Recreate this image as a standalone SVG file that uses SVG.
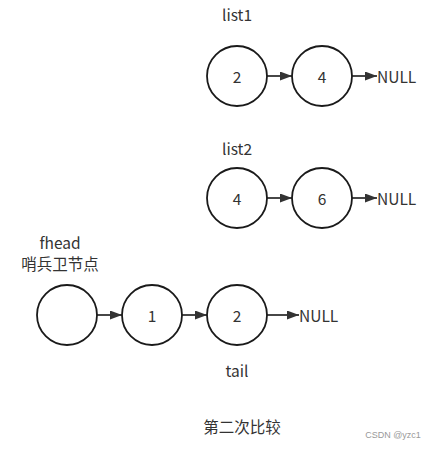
<svg xmlns="http://www.w3.org/2000/svg" width="432" height="452" viewBox="0 0 432 452">
<style>
.n{fill:#fff;stroke:#1a1a1a;stroke-width:1.8}
.t{font-family:"Microsoft YaHei","Noto Sans CJK SC","Liberation Sans",sans-serif;font-size:15.5px;fill:#333;text-anchor:middle;dominant-baseline:central}
.l{font-family:"Noto Sans CJK SC","Liberation Sans",sans-serif;font-size:15.5px;fill:#333;dominant-baseline:central}
.c{stroke:#333;stroke-width:1.8;fill:none;marker-end:url(#a)}
</style>
<defs>
<marker id="a" viewBox="0 0 12 9" refX="12" refY="4.5" markerWidth="12" markerHeight="9" markerUnits="userSpaceOnUse" orient="auto">
<path d="M0,0 L12,4.5 L0,9 z" fill="#333"/>
</marker>
</defs>
<rect width="432" height="452" fill="#fff"/>
<g id="labels">
<text class="t" x="237" y="14">list1</text>
<text class="t" x="237" y="148">list2</text>
<text class="t" x="60" y="242">fhead</text>
<text class="t" x="60" y="263">哨兵卫节点</text>
<text class="t" x="237" y="370">tail</text>
<text class="t" x="242" y="426">第二次比较</text>
<text x="393" y="438" font-family="Liberation Sans,sans-serif" font-size="9" fill="#999" text-anchor="middle">CSDN @yzc1</text>
</g>
<g id="connectors">
<path class="c" d="M267,76 H292"/>
<path class="c" d="M352,76 H377"/>
<path class="c" d="M267,198 H292"/>
<path class="c" d="M352,198 H377"/>
<path class="c" d="M97,315 H122"/>
<path class="c" d="M182,315 H207"/>
<path class="c" d="M267,315 H299"/>
</g>
<g id="l1n1"><circle class="n" cx="237" cy="76" r="30"/><text class="t" x="237" y="76">2</text></g>
<g id="l1n2"><circle class="n" cx="322" cy="76" r="30"/><text class="t" x="322" y="76">4</text></g>
<g id="l1null"><text class="l" x="377" y="76">NULL</text></g>
<g id="l2n1"><circle class="n" cx="237" cy="198" r="30"/><text class="t" x="237" y="198">4</text></g>
<g id="l2n2"><circle class="n" cx="322" cy="198" r="30"/><text class="t" x="322" y="198">6</text></g>
<g id="l2null"><text class="l" x="377" y="198">NULL</text></g>
<g id="fhead"><circle class="n" cx="67" cy="315" r="30"/></g>
<g id="m1"><circle class="n" cx="152" cy="315" r="30"/><text class="t" x="152" y="315">1</text></g>
<g id="m2"><circle class="n" cx="237" cy="315" r="30"/><text class="t" x="237" y="315">2</text></g>
<g id="mnull"><text class="l" x="299" y="315">NULL</text></g>
</svg>
